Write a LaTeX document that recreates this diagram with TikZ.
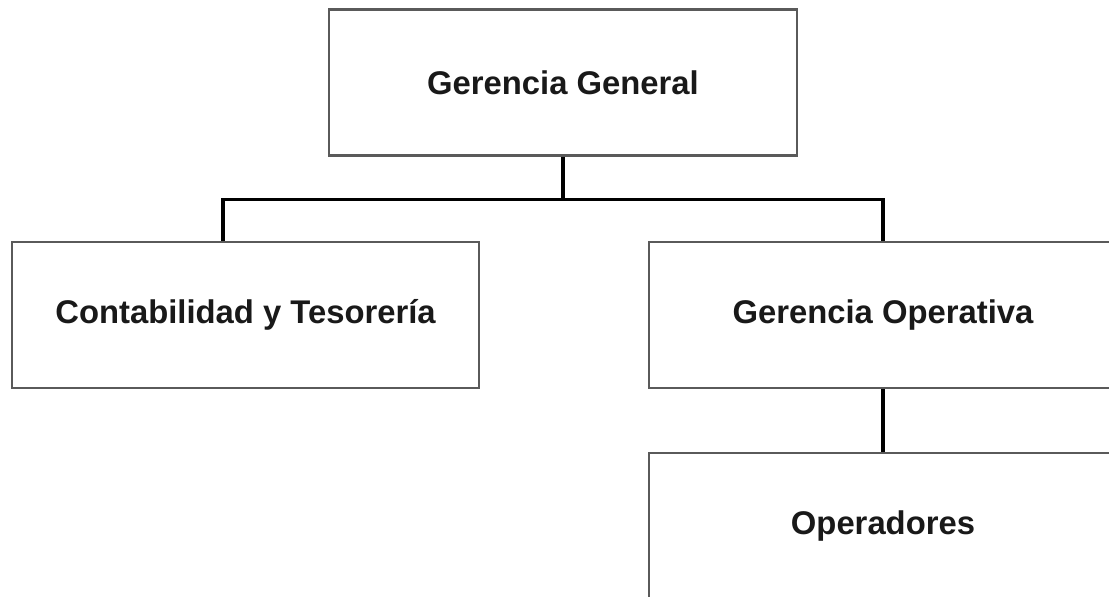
\documentclass[tikz,border=0pt]{standalone}
\usepackage{fontspec}
\setmainfont{Liberation Sans}
\usetikzlibrary{calc}
\definecolor{boxline}{HTML}{5A5A5A}
\begin{document}
\begin{tikzpicture}[x=1pt,y=1pt,
  unit/.style={draw=boxline, line width=2.6pt, fill=white, rectangle,
    minimum width=468pt, minimum height=146pt, inner sep=0pt,
    font=\fontsize{32.8}{38}\selectfont\bfseries, text=black!90},
  link/.style={draw=black, line width=3.4pt, line join=miter}]
  \useasboundingbox (0,0) rectangle (1109,597);
  \clip (0,0) rectangle (1109,597);
  \fill[white] (0,0) rectangle (1109,597);

  % organisation chart units
  \node[unit] (gg) at (563,514.5) {Gerencia General};
  \node[unit, minimum width=467pt] (ct) at (245.5,282) {Contabilidad y Tesorería};
  \node[unit] (go) at (883,282) {Gerencia Operativa};
  \node[unit] (op) at (883,71) {Operadores};

  % reporting lines
  \coordinate (bus) at (223,397.5);
  \draw[link] (gg.south) -- (gg.south |- bus);
  \draw[link] (bus |- ct.north) -- (bus) -- (bus -| go.north) -- (go.north);
  \draw[link] (go.south) -- (op.north);
\end{tikzpicture}
\end{document}
